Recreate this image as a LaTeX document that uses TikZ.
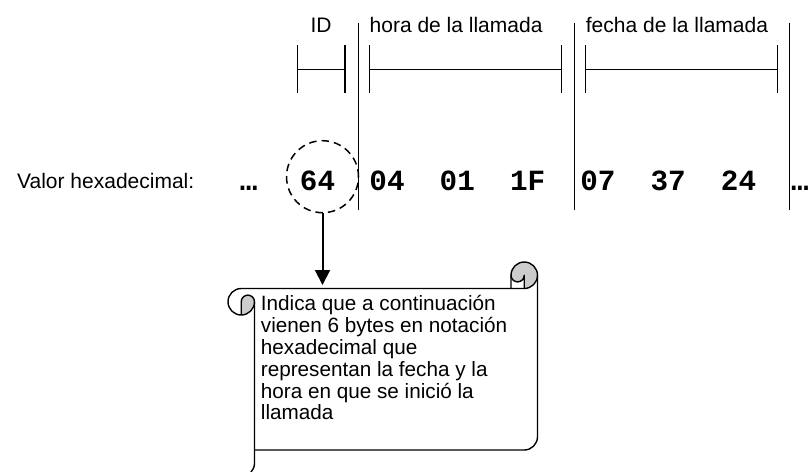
\documentclass[tikz,border=0pt]{standalone}
\usepackage{fontspec}
\setmainfont{Liberation Sans}
\newfontfamily\hexfont{Liberation Mono}
\usetikzlibrary{arrows.meta}
\begin{document}
\begin{tikzpicture}[x=1pt,y=-1pt,
  lbl/.style={font=\fontsize{21}{24}\selectfont, inner sep=0pt, anchor=base west},
  hexv/.style={font=\hexfont\bfseries\fontsize{29.3}{30}\selectfont, inner sep=0pt, anchor=base},
  sepline/.style={line width=1pt},
  brk/.style={line width=1.5pt},
  scrollline/.style={line width=1.4pt, line join=round},
  roll/.style={fill=black!20},
  arr/.style={line width=2pt, -{Triangle[width=15pt,length=15pt]}},
  idcirc/.style={circle, draw, line width=1.5pt, dash pattern=on 7.5pt off 5pt, minimum size=72pt, inner sep=0pt}
]
\useasboundingbox (0,0) rectangle (810,471);

% top labels
\node[lbl, anchor=base] (idl) at (321,32.7) {ID};
\node[lbl] (horal) at (369.5,32.7) {hora de la llamada};
\node[lbl] (fechal) at (585.7,32.7) {fecha de la llamada};

% separators
\draw[sepline] (358.7,22.5) -- (358.7,210);
\draw[sepline] (574,22.5) -- (574,210);
\draw[sepline] (789,22.5) -- (789,210);

% brackets
\draw[brk] (297.3,45) -- (297.3,93.3) (345,45) -- (345,93.3) (297.3,69.3) -- (345,69.3);
\draw[brk] (369.3,45) -- (369.3,93.3) (561.7,45) -- (561.7,93.3) (369.3,69.3) -- (561.7,69.3);
\draw[brk] (585.7,45) -- (585.7,93.3) (777.4,45) -- (777.4,93.3) (585.7,69.3) -- (777.4,69.3);

% hex row
\node[lbl] (valor) at (17,188) {Valor hexadecimal:};
\node[hexv] (dots1) at (248.7,190) {…};
\node[hexv] (h1) at (317.5,190) {64};
\node[hexv] (h2) at (387,190) {04};
\node[hexv] (h3) at (457.3,190) {01};
\node[hexv] (h4) at (527.6,190) {1F};
\node[hexv] (h5) at (597.9,190) {07};
\node[hexv] (h6) at (668.2,190) {37};
\node[hexv] (h7) at (738.5,190) {24};
\node[hexv] (dots2) at (800,190) {…};

\node[idcirc] (circ) at (322.5,176.7) {};

% scroll body
\path[fill=white] (241.25,288.5) -- (511,288.5) -- (511,275.25)
  arc[start angle=180, delta angle=180, radius=13.25]
  -- (537.5,436.75) arc[start angle=0, delta angle=90, radius=13.25]
  -- (254.5,450) -- (254.5,301.75) -- cycle;
\fill[roll] (241.25,315) arc[start angle=90, delta angle=-90, radius=13.25]
  arc[start angle=0, delta angle=-180, radius=6.625] -- cycle;
\fill[roll] (524.25,288.5) arc[start angle=90, delta angle=-270, radius=13.25]
  arc[start angle=180, delta angle=-180, radius=6.625] -- cycle;
% outline
\draw[scrollline] (228,301.75) arc[start angle=180, delta angle=90, radius=13.25]
  -- (511,288.5) -- (511,275.25) arc[start angle=180, delta angle=180, radius=13.25]
  -- (537.5,436.75) arc[start angle=0, delta angle=90, radius=13.25]
  -- (254.5,450);
\draw[scrollline] (254.5,301.75) -- (254.5,463.25) arc[start angle=0, delta angle=90, radius=13.25];
% right roll details
\draw[scrollline] (511,288.5) -- (524.25,288.5) arc[start angle=90, delta angle=-90, radius=13.25];
\draw[scrollline] (524.25,288.5) -- (524.25,275.25) arc[start angle=0, delta angle=180, radius=6.625];
% left roll details
\draw[scrollline] (241.25,315) -- (241.25,301.75) arc[start angle=180, delta angle=180, radius=6.625]
  arc[start angle=0, delta angle=180, radius=13.25];

\node[font=\fontsize{20.7}{21.9}\selectfont, align=left, inner sep=0pt, anchor=north west] (note) at (260.7,295)
 {Indica que a continuación\\vienen 6 bytes en notación\\hexadecimal que\\representan la fecha y la\\hora en que se inició la\\llamada};

\coordinate (tip) at (322.5,285);
\draw[arr] (circ.south) -- (tip);
\end{tikzpicture}
\end{document}
